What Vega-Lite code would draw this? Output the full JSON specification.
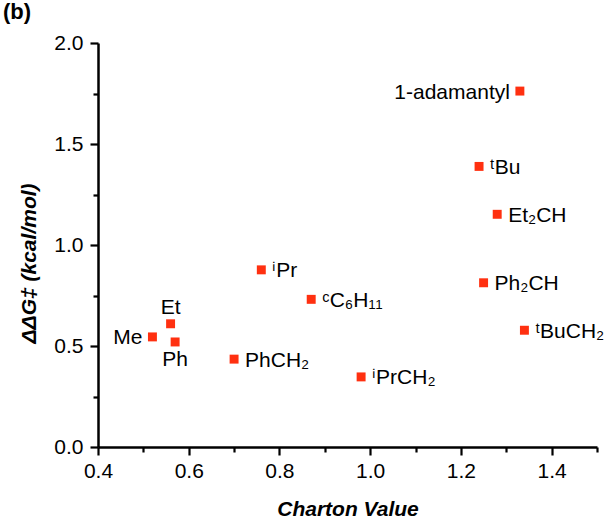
{
  "$schema": "https://vega.github.io/schema/vega-lite/v6.json",
  "width": 499,
  "height": 404,
  "autosize": {"type": "none"},
  "padding": {"left": 98, "top": 43, "right": 7, "bottom": 73},
  "background": "white",
  "title": {"text": "(b)", "anchor": "start", "frame": "group", "dx": -95, "dy": 19, "fontSize": 22, "fontWeight": "bold", "font": "Liberation Sans", "color": "black", "baseline": "alphabetic", "offset": 10},
  "config": {
    "view": {"stroke": null},
    "axis": {
      "grid": false,
      "domainColor": "black",
      "domainWidth": 2.5,
      "tickColor": "black",
      "tickWidth": 2.2,
      "labelFont": "Liberation Sans",
      "labelFontSize": 21,
      "labelColor": "black",
      "labelOverlap": false,
      "labelFlush": false,
      "titleFont": "Liberation Sans",
      "titleFontSize": 21,
      "titleFontWeight": "bold",
      "titleFontStyle": "italic",
      "titleColor": "black"
    }
  },
  "data": {
    "values": [
      {"label": "Me", "charton": 0.52, "ddg": 0.545},
      {"label": "Et", "charton": 0.56, "ddg": 0.61},
      {"label": "Ph", "charton": 0.57, "ddg": 0.52},
      {"label": "PhCH₂", "charton": 0.70, "ddg": 0.435},
      {"label": "ⁱPr", "charton": 0.76, "ddg": 0.877},
      {"label": "ᶜC₆H₁₁", "charton": 0.87, "ddg": 0.731},
      {"label": "ⁱPrCH₂", "charton": 0.98, "ddg": 0.347},
      {"label": "1-adamantyl", "charton": 1.33, "ddg": 1.762},
      {"label": "ᵗBu", "charton": 1.24, "ddg": 1.389},
      {"label": "Et₂CH", "charton": 1.28, "ddg": 1.152},
      {"label": "Ph₂CH", "charton": 1.25, "ddg": 0.813},
      {"label": "ᵗBuCH₂", "charton": 1.34, "ddg": 0.578}
    ]
  },
  "encoding": {
    "x": {
      "field": "charton", "type": "quantitative",
      "scale": {"domain": [0.4, 1.5], "nice": false, "zero": false},
      "axis": {
        "title": "Charton Value",
        "values": [0.4, 0.5, 0.6, 0.7, 0.8, 0.9, 1.0, 1.1, 1.2, 1.3, 1.4, 1.5],
        "labelExpr": "round(datum.value*10)%2==0 ? format(datum.value,'.1f') : ''",
        "tickSize": {"condition": {"test": "round(datum.value*10)%2==0", "value": 8}, "value": 5},
        "labelPadding": 5,
        "titlePadding": 17
      }
    },
    "y": {
      "field": "ddg", "type": "quantitative",
      "scale": {"domain": [0, 2], "nice": false, "zero": false},
      "axis": {
        "title": "ΔΔG‡ (kcal/mol)",
        "values": [0, 0.25, 0.5, 0.75, 1.0, 1.25, 1.5, 1.75, 2.0],
        "labelExpr": "round(datum.value*4)%2==0 ? format(datum.value,'.1f') : ''",
        "tickSize": {"condition": {"test": "round(datum.value*4)%2==0", "value": 8}, "value": 5},
        "labelPadding": 7,
        "titlePadding": 14,
        "titleY": 220
      }
    }
  },
  "layer": [
    {
      "mark": {"type": "point", "shape": "square", "filled": true, "size": 80, "color": "#ff3010", "opacity": 1}
    },
    {
      "transform": [{"filter": {"not": {"field": "label", "oneOf": ["Me", "1-adamantyl", "Et", "Ph"]}}}],
      "mark": {"type": "text", "align": "left", "baseline": "alphabetic", "dx": 11, "dy": 7.5, "fontSize": 21, "font": "Liberation Sans", "color": "black"},
      "encoding": {"text": {"field": "label"}}
    },
    {
      "transform": [{"filter": {"field": "label", "oneOf": ["Me", "1-adamantyl"]}}],
      "mark": {"type": "text", "align": "right", "baseline": "alphabetic", "dx": -10, "dy": 7.5, "fontSize": 21, "font": "Liberation Sans", "color": "black"},
      "encoding": {"text": {"field": "label"}}
    },
    {
      "transform": [{"filter": {"field": "label", "equal": "Et"}}],
      "mark": {"type": "text", "align": "center", "baseline": "alphabetic", "dy": -10, "fontSize": 21, "font": "Liberation Sans", "color": "black"},
      "encoding": {"text": {"field": "label"}}
    },
    {
      "transform": [{"filter": {"field": "label", "equal": "Ph"}}],
      "mark": {"type": "text", "align": "center", "baseline": "alphabetic", "dy": 24.5, "fontSize": 21, "font": "Liberation Sans", "color": "black"},
      "encoding": {"text": {"field": "label"}}
    }
  ]
}
